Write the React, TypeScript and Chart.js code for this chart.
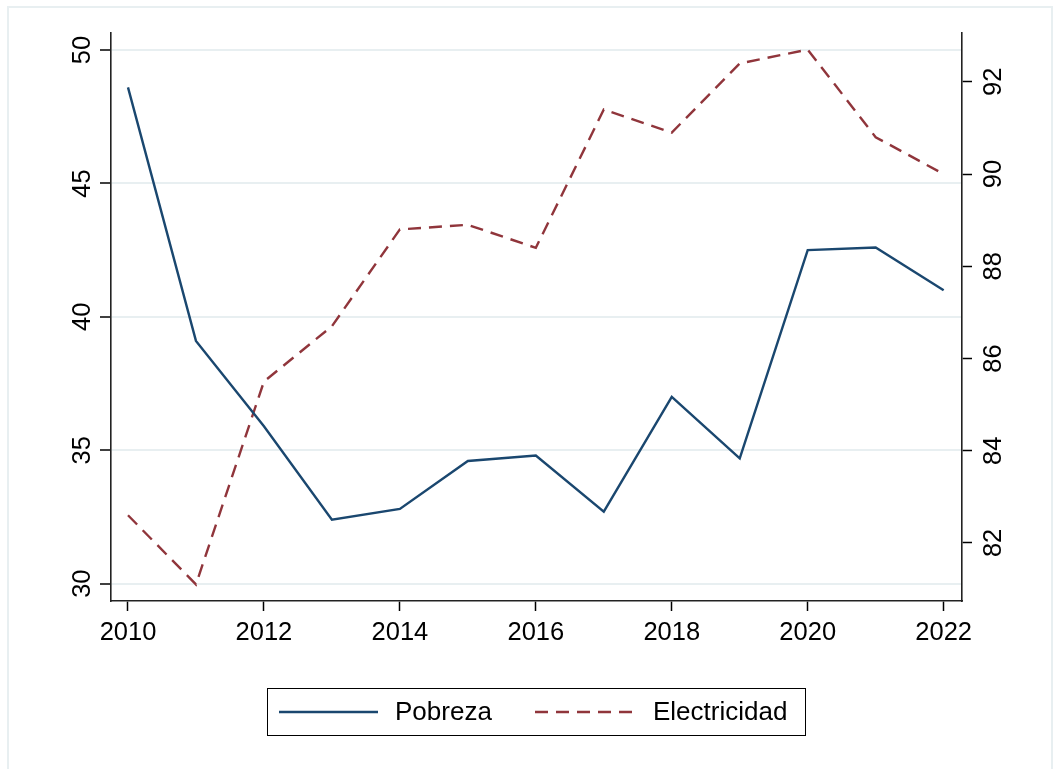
import React, { useEffect, useRef } from 'react';
import { Chart, registerables } from 'chart.js';

Chart.register(...registerables);

const years = [2010, 2011, 2012, 2013, 2014, 2015, 2016, 2017, 2018, 2019, 2020, 2021, 2022];
const pobreza = [48.6, 39.1, 35.9, 32.4, 32.8, 34.6, 34.8, 32.7, 37.0, 34.7, 42.5, 42.6, 41.0];
const electricidad = [82.6, 81.1, 85.5, 86.7, 88.8, 88.9, 88.4, 91.4, 90.9, 92.4, 92.7, 90.8, 90.0];
const xTicks = [2010, 2012, 2014, 2016, 2018, 2020, 2022];
const leftTicks = [30, 35, 40, 45, 50];
const rightTicks = [82, 84, 86, 88, 90, 92];

const FONT = '"Liberation Sans", Arial, sans-serif';
const W = 1061;
const H = 769;

const framePlugin = {
  id: 'frame',
  beforeDraw(chart: any) {
    const ctx = chart.ctx;
    ctx.save();
    ctx.fillStyle = '#ffffff';
    ctx.fillRect(0, 0, chart.width, chart.height);
    ctx.strokeStyle = '#e8eff1';
    ctx.lineWidth = 2;
    ctx.strokeRect(8, 7, 1044, 780);
    ctx.restore();
  },
};

const legendPlugin = {
  id: 'boxLegend',
  afterDraw(chart: any) {
    const ctx = chart.ctx;
    const ds = chart.data.datasets;
    ctx.save();
    ctx.strokeStyle = '#000';
    ctx.lineWidth = 1;
    ctx.strokeRect(267.5, 688.5, 538, 47);
    const cy = 712;
    const items = [
      { x1: 279, x2: 378, tx: 395 },
      { x1: 535, x2: 636, tx: 653 },
    ];
    items.forEach((it, i) => {
      const d = ds[i];
      ctx.strokeStyle = d.borderColor;
      ctx.lineWidth = d.borderWidth;
      ctx.setLineDash(d.borderDash || []);
      ctx.beginPath();
      ctx.moveTo(it.x1, cy);
      ctx.lineTo(it.x2, cy);
      ctx.stroke();
      ctx.setLineDash([]);
      ctx.fillStyle = '#000';
      ctx.font = `26px ${FONT}`;
      ctx.textAlign = 'left';
      ctx.textBaseline = 'middle';
      ctx.fillText(d.label, it.tx, cy + 1);
    });
    ctx.restore();
  },
};

export default function App() {
  const ref = useRef<HTMLCanvasElement | null>(null);

  useEffect(() => {
    const canvas = ref.current;
    if (!canvas) return;
    const chart = new Chart(canvas, {
      type: 'line',
      data: {
        datasets: [
          {
            label: 'Pobreza',
            data: years.map((y, i) => ({ x: y, y: pobreza[i] })),
            borderColor: '#1a476f',
            borderWidth: 2.4,
            pointRadius: 0,
            tension: 0,
            yAxisID: 'y',
          },
          {
            label: 'Electricidad',
            data: years.map((y, i) => ({ x: y, y: electricidad[i] })),
            borderColor: '#90353b',
            borderWidth: 2.4,
            borderDash: [13, 8],
            pointRadius: 0,
            tension: 0,
            yAxisID: 'y1',
          },
        ],
      },
      options: {
        responsive: false,
        animation: false,
        devicePixelRatio: 1,
        layout: { padding: { top: 33, left: 0, right: 0, bottom: 118 } },
        plugins: { legend: { display: false }, tooltip: { enabled: false } },
        scales: {
          x: {
            type: 'linear',
            min: 2009.75,
            max: 2022.27,
            afterBuildTicks: (s: any) => {
              s.ticks = xTicks.map((v) => ({ value: v }));
            },
            afterFit: (s: any) => {
              s.height = 50;
            },
            ticks: {
              callback: (v: any) => String(v),
              color: '#000',
              font: { family: FONT, size: 25.5 },
              padding: 7,
              maxRotation: 0,
              minRotation: 0,
            },
            grid: {
              drawOnChartArea: false,
              tickLength: 10,
              tickColor: '#000',
              tickWidth: 1.5,
            },
            border: { color: '#222', width: 1.6 },
          },
          y: {
            type: 'linear',
            position: 'left',
            min: 29.35,
            max: 50.64,
            afterBuildTicks: (s: any) => {
              s.ticks = leftTicks.map((v) => ({ value: v }));
            },
            afterFit: (s: any) => {
              s.width = 111;
            },
            ticks: {
              color: '#000',
              font: { family: FONT, size: 25.5 },
              padding: 3,
              minRotation: 90,
              maxRotation: 90,
              crossAlign: 'center',
              callback: (v: any) => String(v),
            },
            grid: {
              color: '#e8eff1',
              lineWidth: 2,
              tickLength: 11,
              tickColor: '#000',
              tickWidth: 1.5,
            },
            border: { color: '#222', width: 1.6 },
          },
          y1: {
            type: 'linear',
            position: 'right',
            min: 80.74,
            max: 93.06,
            afterBuildTicks: (s: any) => {
              s.ticks = rightTicks.map((v) => ({ value: v }));
            },
            afterFit: (s: any) => {
              s.width = 99;
            },
            ticks: {
              color: '#000',
              font: { family: FONT, size: 25.5 },
              padding: 8,
              minRotation: 90,
              maxRotation: 90,
              crossAlign: 'center',
              callback: (v: any) => String(v),
            },
            grid: {
              drawOnChartArea: false,
              tickLength: 10,
              tickColor: '#000',
              tickWidth: 1.5,
            },
            border: { color: '#222', width: 1.6 },
          },
        },
      },
      plugins: [framePlugin, legendPlugin],
    } as any);
    return () => chart.destroy();
  }, []);

  return (
    <div style={{ position: 'absolute', left: 0, top: 0, width: W, height: H }}>
      <canvas ref={ref} width={W} height={H} style={{ width: W, height: H, display: 'block' }} />
    </div>
  );
}
